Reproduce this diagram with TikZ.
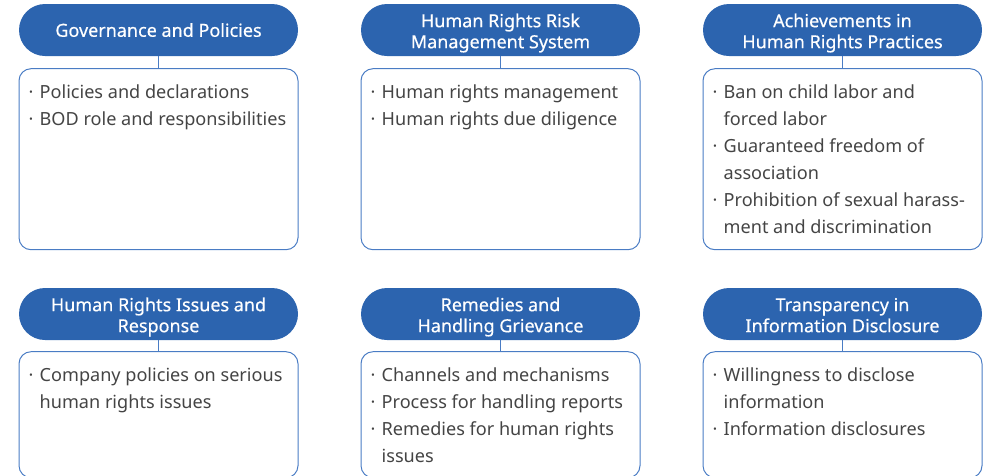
\documentclass[tikz,border=0pt]{standalone}
\usepackage{fontspec}
\setmainfont{Noto Sans}
\newfontfamily\headfont{Noto Sans}[FakeBold=0.4]
\usetikzlibrary{positioning}
\definecolor{hrblue}{RGB}{44,100,175}
\definecolor{hrline}{RGB}{74,124,196}
\definecolor{hrtext}{RGB}{68,68,68}
\newcommand{\bul}{\makebox[11pt][l]{\textperiodcentered}}
\newcommand{\ind}{\hspace*{11pt}}
\newcommand{\hdtwo}[2]{\raisebox{-3.5pt}[\height][\depth]{\begin{tabular}{@{}c@{}}#1\\#2\end{tabular}}}

\begin{document}
\begin{tikzpicture}[x=1pt, y=1pt,
  head/.style={rectangle, rounded corners=26pt, fill=hrblue, text=white,
    minimum width=279pt, minimum height=52pt, inner sep=0pt, align=center,
    font=\headfont\fontsize{18}{21}\selectfont},
  panel/.style={rectangle, draw=hrline, line width=1pt, rounded corners=12pt,
    minimum width=279pt, minimum height=181pt},
  items/.style={anchor=north west, inner sep=0pt, text=hrtext, align=left,
    font=\fontsize{18.1}{27}\selectfont},
  link/.style={draw=hrline, line width=1pt}]
  \useasboundingbox (0,0) rectangle (985,-475);

  % top row
  \node[head] (gov) at (158.5,-30) {Governance and Policies};
  \node[panel, below=12pt of gov] (govbox) {};
  \draw[link] (gov) -- (govbox);
  \node[items] (govtxt) at ([xshift=10pt, yshift=-16pt]govbox.north west)
    {\bul Policies and declarations\\
     \bul BOD role and responsibilities};

  \node[head] (risk) at (500.5,-30) {\hdtwo{Human Rights Risk}{Management System}};
  \node[panel, below=12pt of risk] (riskbox) {};
  \draw[link] (risk) -- (riskbox);
  \node[items] (risktxt) at ([xshift=10pt, yshift=-16pt]riskbox.north west)
    {\bul Human rights management\\
     \bul Human rights due diligence};

  \node[head] (ach) at (842.5,-30) {\hdtwo{Achievements in}{Human Rights Practices}};
  \node[panel, below=12pt of ach] (achbox) {};
  \draw[link] (ach) -- (achbox);
  \node[items] (achtxt) at ([xshift=10pt, yshift=-16pt]achbox.north west)
    {\bul Ban on child labor and\\
     \ind forced labor\\
     \bul Guaranteed freedom of\\
     \ind association\\
     \bul Prohibition of sexual harass-\\
     \ind ment and discrimination};

  % bottom row
  \node[head] (iss) at (158.5,-314) {\hdtwo{Human Rights Issues and}{Response}};
  \node[panel, minimum height=126pt, below=11pt of iss] (issbox) {};
  \draw[link] (iss) -- (issbox);
  \node[items] (isstxt) at ([xshift=10pt, yshift=-16pt]issbox.north west)
    {\bul Company policies on serious\\
     \ind human rights issues};

  \node[head] (rem) at (500.5,-314) {\hdtwo{Remedies and}{Handling Grievance}};
  \node[panel, minimum height=126pt, below=11pt of rem] (rembox) {};
  \draw[link] (rem) -- (rembox);
  \node[items] (remtxt) at ([xshift=10pt, yshift=-16pt]rembox.north west)
    {\bul Channels and mechanisms\\
     \bul Process for handling reports\\
     \bul Remedies for human rights\\
     \ind issues};

  \node[head] (tra) at (842.5,-314) {\hdtwo{Transparency in}{Information Disclosure}};
  \node[panel, minimum height=126pt, below=11pt of tra] (trabox) {};
  \draw[link] (tra) -- (trabox);
  \node[items] (tratxt) at ([xshift=10pt, yshift=-16pt]trabox.north west)
    {\bul Willingness to disclose\\
     \ind information\\
     \bul Information disclosures};
\end{tikzpicture}
\end{document}
